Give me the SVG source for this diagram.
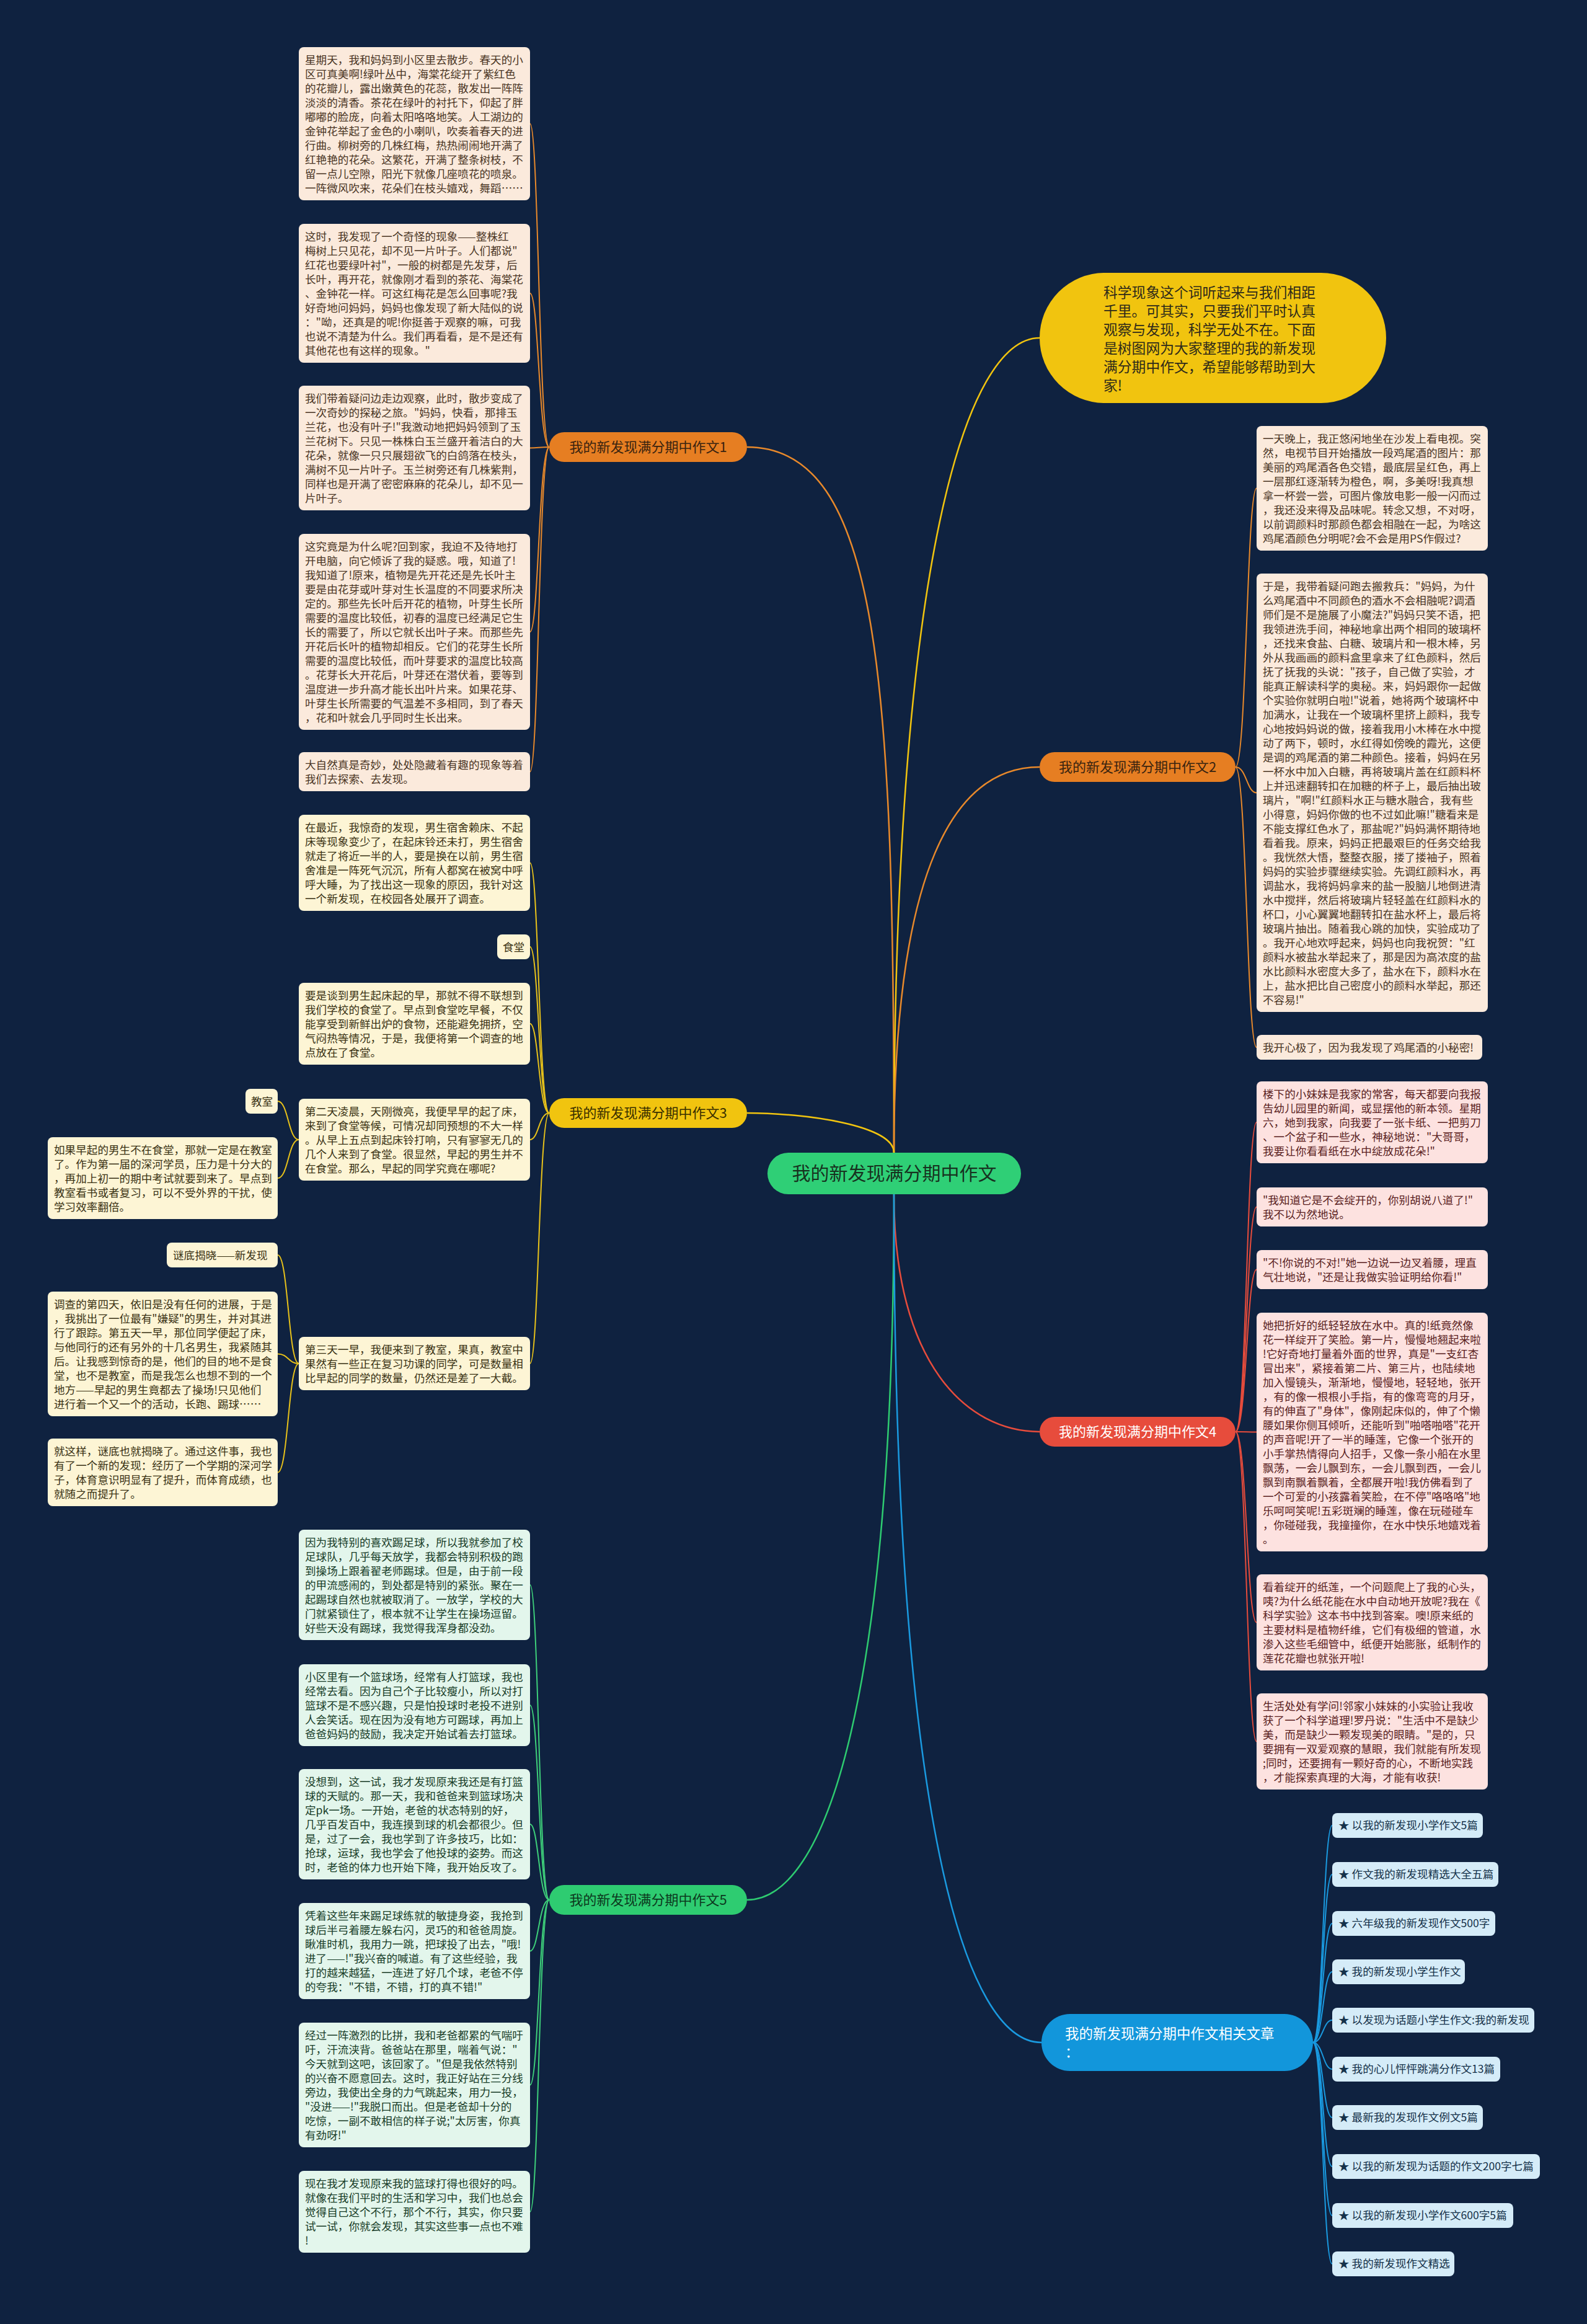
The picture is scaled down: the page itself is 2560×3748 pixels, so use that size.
<svg xmlns="http://www.w3.org/2000/svg" width="2560" height="3748" viewBox="0 0 2560 3748">
<style>
text{font-family:"Noto Sans CJK SC","Noto Sans",sans-serif}
.t{font-size:17.6px}
.lab{font-size:22px;text-anchor:middle}
.c{fill:none;stroke-width:2}
.m{fill:none;stroke-width:2.5}
.b1{fill:#fbeadc}.x1{fill:#4a3524}
.b3{fill:#fdf5d5}.x3{fill:#3a3214}
.b4{fill:#fde2e0}.x4{fill:#5a1e1e}
.b5{fill:#e3f6ec}.x5{fill:#183d28}
.b6{fill:#d5ecf8}.x6{fill:#15324a}
</style>
<rect width="2560" height="3748" fill="#0f2240"/>
<g id="connectors">
<path class="m" stroke="#e8892b" d="M1442 1859 C1442 1100 1420 721 1205 721"/>
<path class="m" stroke="#f1c40f" d="M1442 1859 C1442 900 1560 545 1677 545"/>
<path class="m" stroke="#e8892b" d="M1442 1859 C1442 1400 1540 1237 1677 1237"/>
<path class="m" stroke="#f1c40f" d="M1442 1859 C1442 1815 1300 1795 1205 1795"/>
<path class="m" stroke="#e74c3c" d="M1442 1926 C1442 2200 1560 2309 1677 2309"/>
<path class="m" stroke="#2ecc71" d="M1442 1926 C1442 2750 1330 3064 1205 3064"/>
<path class="m" stroke="#1a9ae0" d="M1442 1926 C1442 2950 1560 3294 1680 3294"/>
<g stroke="#e8892b">
<path class="c" d="M886 721 C869 721 869 199.5 855 199.5"/>
<path class="c" d="M886 721 C869 721 869 473 855 473"/>
<path class="c" d="M886 721 C869 721 869 722.5 855 722.5"/>
<path class="c" d="M886 721 C869 721 869 1019 855 1019"/>
<path class="c" d="M886 721 C869 721 869 1244.5 855 1244.5"/>
<path class="c" d="M1993 1237 C2011 1237 2011 787.5 2027 787.5"/>
<path class="c" d="M1993 1237 C2011 1237 2011 1278.5 2027 1278.5"/>
<path class="c" d="M1993 1237 C2011 1237 2011 1689 2027 1689"/>
</g>
<g stroke="#e8c21a">
<path class="c" d="M886 1795 C869 1795 869 1391.5 855 1391.5"/>
<path class="c" d="M886 1795 C869 1795 869 1527 855 1527"/>
<path class="c" d="M886 1795 C869 1795 869 1651 855 1651"/>
<path class="c" d="M886 1795 C869 1795 869 1838 855 1838"/>
<path class="c" d="M886 1795 C869 1795 869 2199 855 2199"/>
<path class="c" d="M482 1838 C465 1838 465 1776 448 1776"/>
<path class="c" d="M482 1838 C465 1838 465 1900 448 1900"/>
<path class="c" d="M482 2199 C465 2199 465 2024 448 2024"/>
<path class="c" d="M482 2199 C465 2199 465 2183.5 448 2183.5"/>
<path class="c" d="M482 2199 C465 2199 465 2374.5 448 2374.5"/>
</g>
<g stroke="#e74c3c">
<path class="c" d="M1993 2309 C2011 2309 2011 1810 2027 1810"/>
<path class="c" d="M1993 2309 C2011 2309 2011 1946.5 2027 1946.5"/>
<path class="c" d="M1993 2309 C2011 2309 2011 2047.5 2027 2047.5"/>
<path class="c" d="M1993 2309 C2011 2309 2011 2309.5 2027 2309.5"/>
<path class="c" d="M1993 2309 C2011 2309 2011 2616.5 2027 2616.5"/>
<path class="c" d="M1993 2309 C2011 2309 2011 2808.5 2027 2808.5"/>
</g>
<g stroke="#3ecf7a">
<path class="c" d="M886 3064 C869 3064 869 2556 855 2556"/>
<path class="c" d="M886 3064 C869 3064 869 2750 855 2750"/>
<path class="c" d="M886 3064 C869 3064 869 2942 855 2942"/>
<path class="c" d="M886 3064 C869 3064 869 3146.5 855 3146.5"/>
<path class="c" d="M886 3064 C869 3064 869 3362.5 855 3362.5"/>
<path class="c" d="M886 3064 C869 3064 869 3567 855 3567"/>
</g>
<g stroke="#1a9ae0">
<path class="c" d="M2118 3294 C2134 3294 2134 2944 2149 2944"/>
<path class="c" d="M2118 3294 C2134 3294 2134 3023 2149 3023"/>
<path class="c" d="M2118 3294 C2134 3294 2134 3102 2149 3102"/>
<path class="c" d="M2118 3294 C2134 3294 2134 3180 2149 3180"/>
<path class="c" d="M2118 3294 C2134 3294 2134 3258 2149 3258"/>
<path class="c" d="M2118 3294 C2134 3294 2134 3337 2149 3337"/>
<path class="c" d="M2118 3294 C2134 3294 2134 3415 2149 3415"/>
<path class="c" d="M2118 3294 C2134 3294 2134 3494 2149 3494"/>
<path class="c" d="M2118 3294 C2134 3294 2134 3573 2149 3573"/>
<path class="c" d="M2118 3294 C2134 3294 2134 3651 2149 3651"/>
</g>
</g>

<g id="root">
<rect x="1238" y="1859" width="409" height="67" rx="33.5" fill="#2fcf76"/>
<text x="1442.5" y="1903" font-size="30" text-anchor="middle" fill="#17321f">我的新发现满分期中作文</text>
</g>

<g id="intro">
<rect x="1677" y="440" width="559" height="210" rx="105" fill="#f1c40f"/>
<text font-size="22.8" fill="#2e2a1a">
<tspan x="1780" y="480">科学现象这个词听起来与我们相距</tspan>
<tspan x="1780" y="510">千里。可其实，只要我们平时认真</tspan>
<tspan x="1780" y="540">观察与发现，科学无处不在。下面</tspan>
<tspan x="1780" y="570">是树图网为大家整理的我的新发现</tspan>
<tspan x="1780" y="600">满分期中作文，希望能够帮助到大</tspan>
<tspan x="1780" y="630">家!</tspan>
</text>
</g>

<g id="branch1">
<rect x="886" y="697" width="319" height="48" rx="24" fill="#e67e22"/>
<text class="lab" x="1045.5" y="729" fill="#3a2410">我的新发现满分期中作文1</text>
</g>
<g id="branch2">
<rect x="1677" y="1213" width="316" height="48" rx="24" fill="#e67e22"/>
<text class="lab" x="1835" y="1245" fill="#3a2410">我的新发现满分期中作文2</text>
</g>
<g id="branch3">
<rect x="886" y="1771" width="319" height="48" rx="24" fill="#f1c40f"/>
<text class="lab" x="1045.5" y="1803" fill="#3a3000">我的新发现满分期中作文3</text>
</g>
<g id="branch4">
<rect x="1677" y="2285" width="316" height="48" rx="24" fill="#e74c3c"/>
<text class="lab" x="1835" y="2317" fill="#ffffff">我的新发现满分期中作文4</text>
</g>
<g id="branch5">
<rect x="886" y="3040" width="319" height="48" rx="24" fill="#2ecc71"/>
<text class="lab" x="1045.5" y="3072" fill="#0c3a1e">我的新发现满分期中作文5</text>
</g>
<g id="branch6">
<rect x="1680" y="3248" width="438" height="92" rx="46" fill="#1296db"/>
<text font-size="22.5" fill="#ffffff">
<tspan x="1718" y="3288">我的新发现满分期中作文相关文章</tspan>
<tspan x="1718" y="3318">：</tspan>
</text>
</g>

<g id="n1a">
<rect class="b1" x="482" y="76" width="373" height="247" rx="8"/>
<text class="t x1">
<tspan x="492" y="103">星期天，我和妈妈到小区里去散步。春天的小</tspan>
<tspan x="492" y="126">区可真美啊!绿叶丛中，海棠花绽开了紫红色</tspan>
<tspan x="492" y="149">的花瓣儿，露出嫩黄色的花蕊，散发出一阵阵</tspan>
<tspan x="492" y="172">淡淡的清香。茶花在绿叶的衬托下，仰起了胖</tspan>
<tspan x="492" y="195">嘟嘟的脸庞，向着太阳咯咯地笑。人工湖边的</tspan>
<tspan x="492" y="218">金钟花举起了金色的小喇叭，吹奏着春天的进</tspan>
<tspan x="492" y="241">行曲。柳树旁的几株红梅，热热闹闹地开满了</tspan>
<tspan x="492" y="264">红艳艳的花朵。这繁花，开满了整条树枝，不</tspan>
<tspan x="492" y="287">留一点儿空隙，阳光下就像几座喷花的喷泉。</tspan>
<tspan x="492" y="310">一阵微风吹来，花朵们在枝头嬉戏，舞蹈……</tspan>
</text>
</g>
<g id="n1b">
<rect class="b1" x="482" y="361" width="373" height="224" rx="8"/>
<text class="t x1">
<tspan x="492" y="388">这时，我发现了一个奇怪的现象——整株红</tspan>
<tspan x="492" y="411">梅树上只见花，却不见一片叶子。人们都说"</tspan>
<tspan x="492" y="434">红花也要绿叶衬"，一般的树都是先发芽，后</tspan>
<tspan x="492" y="457">长叶，再开花，就像刚才看到的茶花、海棠花</tspan>
<tspan x="492" y="480">、金钟花一样。可这红梅花是怎么回事呢?我</tspan>
<tspan x="492" y="503">好奇地问妈妈，妈妈也像发现了新大陆似的说</tspan>
<tspan x="492" y="526">："呦，还真是的呢!你挺善于观察的嘛，可我</tspan>
<tspan x="492" y="549">也说不清楚为什么。我们再看看，是不是还有</tspan>
<tspan x="492" y="572">其他花也有这样的现象。"</tspan>
</text>
</g>
<g id="n1c">
<rect class="b1" x="482" y="622" width="373" height="201" rx="8"/>
<text class="t x1">
<tspan x="492" y="649">我们带着疑问边走边观察，此时，散步变成了</tspan>
<tspan x="492" y="672">一次奇妙的探秘之旅。"妈妈，快看，那排玉</tspan>
<tspan x="492" y="695">兰花，也没有叶子!"我激动地把妈妈领到了玉</tspan>
<tspan x="492" y="718">兰花树下。只见一株株白玉兰盛开着洁白的大</tspan>
<tspan x="492" y="741">花朵，就像一只只展翅欲飞的白鸽落在枝头，</tspan>
<tspan x="492" y="764">满树不见一片叶子。玉兰树旁还有几株紫荆，</tspan>
<tspan x="492" y="787">同样也是开满了密密麻麻的花朵儿，却不见一</tspan>
<tspan x="492" y="810">片叶子。</tspan>
</text>
</g>
<g id="n1d">
<rect class="b1" x="482" y="861" width="373" height="316" rx="8"/>
<text class="t x1">
<tspan x="492" y="888">这究竟是为什么呢?回到家，我迫不及待地打</tspan>
<tspan x="492" y="911">开电脑，向它倾诉了我的疑惑。哦，知道了!</tspan>
<tspan x="492" y="934">我知道了!原来，植物是先开花还是先长叶主</tspan>
<tspan x="492" y="957">要是由花芽或叶芽对生长温度的不同要求所决</tspan>
<tspan x="492" y="980">定的。那些先长叶后开花的植物，叶芽生长所</tspan>
<tspan x="492" y="1003">需要的温度比较低，初春的温度已经满足它生</tspan>
<tspan x="492" y="1026">长的需要了，所以它就长出叶子来。而那些先</tspan>
<tspan x="492" y="1049">开花后长叶的植物却相反。它们的花芽生长所</tspan>
<tspan x="492" y="1072">需要的温度比较低，而叶芽要求的温度比较高</tspan>
<tspan x="492" y="1095">。花芽长大开花后，叶芽还在潜伏着，要等到</tspan>
<tspan x="492" y="1118">温度进一步升高才能长出叶片来。如果花芽、</tspan>
<tspan x="492" y="1141">叶芽生长所需要的气温差不多相同，到了春天</tspan>
<tspan x="492" y="1164">，花和叶就会几乎同时生长出来。</tspan>
</text>
</g>
<g id="n1e">
<rect class="b1" x="482" y="1213" width="373" height="63" rx="8"/>
<text class="t x1">
<tspan x="492" y="1240">大自然真是奇妙，处处隐藏着有趣的现象等着</tspan>
<tspan x="492" y="1263">我们去探索、去发现。</tspan>
</text>
</g>

<g id="n3a">
<rect class="b3" x="482" y="1314" width="373" height="155" rx="8"/>
<text class="t x3">
<tspan x="492" y="1341">在最近，我惊奇的发现，男生宿舍赖床、不起</tspan>
<tspan x="492" y="1364">床等现象变少了，在起床铃还未打，男生宿舍</tspan>
<tspan x="492" y="1387">就走了将近一半的人，要是换在以前，男生宿</tspan>
<tspan x="492" y="1410">舍准是一阵死气沉沉，所有人都窝在被窝中呼</tspan>
<tspan x="492" y="1433">呼大睡，为了找出这一现象的原因，我针对这</tspan>
<tspan x="492" y="1456">一个新发现，在校园各处展开了调查。</tspan>
</text>
</g>
<g id="n3b">
<rect class="b3" x="802" y="1507" width="53" height="40" rx="8"/>
<text class="t x3" x="811" y="1534">食堂</text>
</g>
<g id="n3c">
<rect class="b3" x="482" y="1585" width="373" height="132" rx="8"/>
<text class="t x3">
<tspan x="492" y="1612">要是谈到男生起床起的早，那就不得不联想到</tspan>
<tspan x="492" y="1635">我们学校的食堂了。早点到食堂吃早餐，不仅</tspan>
<tspan x="492" y="1658">能享受到新鲜出炉的食物，还能避免拥挤，空</tspan>
<tspan x="492" y="1681">气闷热等情况，于是，我便将第一个调查的地</tspan>
<tspan x="492" y="1704">点放在了食堂。</tspan>
</text>
</g>
<g id="n3d">
<rect class="b3" x="482" y="1772" width="373" height="132" rx="8"/>
<text class="t x3">
<tspan x="492" y="1799">第二天凌晨，天刚微亮，我便早早的起了床，</tspan>
<tspan x="492" y="1822">来到了食堂等候，可情况却同预想的不大一样</tspan>
<tspan x="492" y="1845">。从早上五点到起床铃打响，只有寥寥无几的</tspan>
<tspan x="492" y="1868">几个人来到了食堂。很显然，早起的男生并不</tspan>
<tspan x="492" y="1891">在食堂。那么，早起的同学究竟在哪呢?</tspan>
</text>
</g>
<g id="n3e">
<rect class="b3" x="396" y="1756" width="52" height="40" rx="8"/>
<text class="t x3" x="405" y="1783">教室</text>
</g>
<g id="n3f">
<rect class="b3" x="77" y="1834" width="371" height="132" rx="8"/>
<text class="t x3">
<tspan x="87" y="1861">如果早起的男生不在食堂，那就一定是在教室</tspan>
<tspan x="87" y="1884">了。作为第一届的深河学员，压力是十分大的</tspan>
<tspan x="87" y="1907">，再加上初一的期中考试就要到来了。早点到</tspan>
<tspan x="87" y="1930">教室看书或者复习，可以不受外界的干扰，使</tspan>
<tspan x="87" y="1953">学习效率翻倍。</tspan>
</text>
</g>
<g id="n3g">
<rect class="b3" x="482" y="2156" width="373" height="86" rx="8"/>
<text class="t x3">
<tspan x="492" y="2183">第三天一早，我便来到了教室，果真，教室中</tspan>
<tspan x="492" y="2206">果然有一些正在复习功课的同学，可是数量相</tspan>
<tspan x="492" y="2229">比早起的同学的数量，仍然还是差了一大截。</tspan>
</text>
</g>
<g id="n3h">
<rect class="b3" x="269" y="2004" width="179" height="40" rx="8"/>
<text class="t x3" x="279" y="2031">谜底揭晓——新发现</text>
</g>
<g id="n3i">
<rect class="b3" x="77" y="2083" width="371" height="201" rx="8"/>
<text class="t x3">
<tspan x="87" y="2110">调查的第四天，依旧是没有任何的进展，于是</tspan>
<tspan x="87" y="2133">，我挑出了一位最有"嫌疑"的男生，并对其进</tspan>
<tspan x="87" y="2156">行了跟踪。第五天一早，那位同学便起了床，</tspan>
<tspan x="87" y="2179">与他同行的还有另外的十几名男生，我紧随其</tspan>
<tspan x="87" y="2202">后。让我感到惊奇的是，他们的目的地不是食</tspan>
<tspan x="87" y="2225">堂，也不是教室，而是我怎么也想不到的一个</tspan>
<tspan x="87" y="2248">地方——早起的男生竟都去了操场!只见他们</tspan>
<tspan x="87" y="2271">进行着一个又一个的活动，长跑、踢球……</tspan>
</text>
</g>
<g id="n3j">
<rect class="b3" x="77" y="2320" width="371" height="109" rx="8"/>
<text class="t x3">
<tspan x="87" y="2347">就这样，谜底也就揭晓了。通过这件事，我也</tspan>
<tspan x="87" y="2370">有了一个新的发现：经历了一个学期的深河学</tspan>
<tspan x="87" y="2393">子，体育意识明显有了提升，而体育成绩，也</tspan>
<tspan x="87" y="2416">就随之而提升了。</tspan>
</text>
</g>

<g id="n5a">
<rect class="b5" x="482" y="2467" width="373" height="178" rx="8"/>
<text class="t x5">
<tspan x="492" y="2494">因为我特别的喜欢踢足球，所以我就参加了校</tspan>
<tspan x="492" y="2517">足球队，几乎每天放学，我都会特别积极的跑</tspan>
<tspan x="492" y="2540">到操场上跟着翟老师踢球。但是，由于前一段</tspan>
<tspan x="492" y="2563">的甲流感闹的，到处都是特别的紧张。聚在一</tspan>
<tspan x="492" y="2586">起踢球自然也就被取消了。一放学，学校的大</tspan>
<tspan x="492" y="2609">门就紧锁住了，根本就不让学生在操场逗留。</tspan>
<tspan x="492" y="2632">好些天没有踢球，我觉得我浑身都没劲。</tspan>
</text>
</g>
<g id="n5b">
<rect class="b5" x="482" y="2684" width="373" height="132" rx="8"/>
<text class="t x5">
<tspan x="492" y="2711">小区里有一个篮球场，经常有人打篮球，我也</tspan>
<tspan x="492" y="2734">经常去看。因为自己个子比较瘦小，所以对打</tspan>
<tspan x="492" y="2757">篮球不是不感兴趣，只是怕投球时老投不进别</tspan>
<tspan x="492" y="2780">人会笑话。现在因为没有地方可踢球，再加上</tspan>
<tspan x="492" y="2803">爸爸妈妈的鼓励，我决定开始试着去打篮球。</tspan>
</text>
</g>
<g id="n5c">
<rect class="b5" x="482" y="2853" width="373" height="178" rx="8"/>
<text class="t x5">
<tspan x="492" y="2880">没想到，这一试，我才发现原来我还是有打篮</tspan>
<tspan x="492" y="2903">球的天赋的。那一天，我和爸爸来到篮球场决</tspan>
<tspan x="492" y="2926">定pk一场。一开始，老爸的状态特别的好，</tspan>
<tspan x="492" y="2949">几乎百发百中，我连摸到球的机会都很少。但</tspan>
<tspan x="492" y="2972">是，过了一会，我也学到了许多技巧，比如：</tspan>
<tspan x="492" y="2995">抢球，运球，我也学会了他投球的姿势。而这</tspan>
<tspan x="492" y="3018">时，老爸的体力也开始下降，我开始反攻了。</tspan>
</text>
</g>
<g id="n5d">
<rect class="b5" x="482" y="3069" width="373" height="155" rx="8"/>
<text class="t x5">
<tspan x="492" y="3096">凭着这些年来踢足球练就的敏捷身姿，我抢到</tspan>
<tspan x="492" y="3119">球后半弓着腰左躲右闪，灵巧的和爸爸周旋。</tspan>
<tspan x="492" y="3142">瞅准时机，我用力一跳，把球投了出去，"哦!</tspan>
<tspan x="492" y="3165">进了——!"我兴奋的喊道。有了这些经验，我</tspan>
<tspan x="492" y="3188">打的越来越猛，一连进了好几个球，老爸不停</tspan>
<tspan x="492" y="3211">的夸我："不错，不错，打的真不错!"</tspan>
</text>
</g>
<g id="n5e">
<rect class="b5" x="482" y="3262" width="373" height="201" rx="8"/>
<text class="t x5">
<tspan x="492" y="3289">经过一阵激烈的比拼，我和老爸都累的气喘吁</tspan>
<tspan x="492" y="3312">吁，汗流浃背。爸爸站在那里，喘着气说："</tspan>
<tspan x="492" y="3335">今天就到这吧，该回家了。"但是我依然特别</tspan>
<tspan x="492" y="3358">的兴奋不愿意回去。这时，我正好站在三分线</tspan>
<tspan x="492" y="3381">旁边，我使出全身的力气跳起来，用力一投，</tspan>
<tspan x="492" y="3404">"没进——!"我脱口而出。但是老爸却十分的</tspan>
<tspan x="492" y="3427">吃惊，一副不敢相信的样子说;"太厉害，你真</tspan>
<tspan x="492" y="3450">有劲呀!"</tspan>
</text>
</g>
<g id="n5f">
<rect class="b5" x="482" y="3501" width="373" height="132" rx="8"/>
<text class="t x5">
<tspan x="492" y="3528">现在我才发现原来我的篮球打得也很好的吗。</tspan>
<tspan x="492" y="3551">就像在我们平时的生活和学习中，我们也总会</tspan>
<tspan x="492" y="3574">觉得自己这个不行，那个不行，其实，你只要</tspan>
<tspan x="492" y="3597">试一试，你就会发现，其实这些事一点也不难</tspan>
<tspan x="492" y="3620">!</tspan>
</text>
</g>

<g id="n2a">
<rect class="b1" x="2027" y="687" width="373" height="201" rx="8"/>
<text class="t x1">
<tspan x="2037" y="714">一天晚上，我正悠闲地坐在沙发上看电视。突</tspan>
<tspan x="2037" y="737">然，电视节目开始播放一段鸡尾酒的图片：那</tspan>
<tspan x="2037" y="760">美丽的鸡尾酒各色交错，最底层呈红色，再上</tspan>
<tspan x="2037" y="783">一层那红逐渐转为橙色，啊，多美呀!我真想</tspan>
<tspan x="2037" y="806">拿一杯尝一尝，可图片像放电影一般一闪而过</tspan>
<tspan x="2037" y="829">，我还没来得及品味呢。转念又想，不对呀，</tspan>
<tspan x="2037" y="852">以前调颜料时那颜色都会相融在一起，为啥这</tspan>
<tspan x="2037" y="875">鸡尾酒颜色分明呢?会不会是用PS作假过?</tspan>
</text>
</g>
<g id="n2b">
<rect class="b1" x="2027" y="925" width="373" height="707" rx="8"/>
<text class="t x1">
<tspan x="2037" y="952">于是，我带着疑问跑去搬救兵："妈妈，为什</tspan>
<tspan x="2037" y="975">么鸡尾酒中不同颜色的酒水不会相融呢?调酒</tspan>
<tspan x="2037" y="998">师们是不是施展了小魔法?"妈妈只笑不语，把</tspan>
<tspan x="2037" y="1021">我领进洗手间，神秘地拿出两个相同的玻璃杯</tspan>
<tspan x="2037" y="1044">，还找来食盐、白糖、玻璃片和一根木棒，另</tspan>
<tspan x="2037" y="1067">外从我画画的颜料盒里拿来了红色颜料，然后</tspan>
<tspan x="2037" y="1090">抚了抚我的头说："孩子，自己做了实验，才</tspan>
<tspan x="2037" y="1113">能真正解读科学的奥秘。来，妈妈跟你一起做</tspan>
<tspan x="2037" y="1136">个实验你就明白啦!"说着，她将两个玻璃杯中</tspan>
<tspan x="2037" y="1159">加满水，让我在一个玻璃杯里挤上颜料，我专</tspan>
<tspan x="2037" y="1182">心地按妈妈说的做，接着我用小木棒在水中搅</tspan>
<tspan x="2037" y="1205">动了两下，顿时，水红得如傍晚的霞光，这便</tspan>
<tspan x="2037" y="1228">是调的鸡尾酒的第二种颜色。接着，妈妈在另</tspan>
<tspan x="2037" y="1251">一杯水中加入白糖，再将玻璃片盖在红颜料杯</tspan>
<tspan x="2037" y="1274">上并迅速翻转扣在加糖的杯子上，最后抽出玻</tspan>
<tspan x="2037" y="1297">璃片，"啊!"红颜料水正与糖水融合，我有些</tspan>
<tspan x="2037" y="1320">小得意，妈妈你做的也不过如此嘛!"糖看来是</tspan>
<tspan x="2037" y="1343">不能支撑红色水了，那盐呢?"妈妈满怀期待地</tspan>
<tspan x="2037" y="1366">看着我。原来，妈妈正把最艰巨的任务交给我</tspan>
<tspan x="2037" y="1389">。我恍然大悟，整整衣服，搂了搂袖子，照着</tspan>
<tspan x="2037" y="1412">妈妈的实验步骤继续实验。先调红颜料水，再</tspan>
<tspan x="2037" y="1435">调盐水，我将妈妈拿来的盐一股脑儿地倒进清</tspan>
<tspan x="2037" y="1458">水中搅拌，然后将玻璃片轻轻盖在红颜料水的</tspan>
<tspan x="2037" y="1481">杯口，小心翼翼地翻转扣在盐水杯上，最后将</tspan>
<tspan x="2037" y="1504">玻璃片抽出。随着我心跳的加快，实验成功了</tspan>
<tspan x="2037" y="1527">。我开心地欢呼起来，妈妈也向我祝贺："红</tspan>
<tspan x="2037" y="1550">颜料水被盐水举起来了，那是因为高浓度的盐</tspan>
<tspan x="2037" y="1573">水比颜料水密度大多了，盐水在下，颜料水在</tspan>
<tspan x="2037" y="1596">上，盐水把比自己密度小的颜料水举起，那还</tspan>
<tspan x="2037" y="1619">不容易!"</tspan>
</text>
</g>
<g id="n2c">
<rect class="b1" x="2027" y="1669" width="364" height="40" rx="8"/>
<text class="t x1" x="2037" y="1696">我开心极了，因为我发现了鸡尾酒的小秘密!</text>
</g>

<g id="n4a">
<rect class="b4" x="2027" y="1744" width="373" height="132" rx="8"/>
<text class="t x4">
<tspan x="2037" y="1771">楼下的小妹妹是我家的常客，每天都要向我报</tspan>
<tspan x="2037" y="1794">告幼儿园里的新闻，或显摆他的新本领。星期</tspan>
<tspan x="2037" y="1817">六，她到我家，向我要了一张卡纸、一把剪刀</tspan>
<tspan x="2037" y="1840">、一个盆子和一些水，神秘地说："大哥哥，</tspan>
<tspan x="2037" y="1863">我要让你看看纸在水中绽放成花朵!"</tspan>
</text>
</g>
<g id="n4b">
<rect class="b4" x="2027" y="1915" width="373" height="63" rx="8"/>
<text class="t x4">
<tspan x="2037" y="1942">"我知道它是不会绽开的，你别胡说八道了!"</tspan>
<tspan x="2037" y="1965">我不以为然地说。</tspan>
</text>
</g>
<g id="n4c">
<rect class="b4" x="2027" y="2016" width="373" height="63" rx="8"/>
<text class="t x4">
<tspan x="2037" y="2043">"不!你说的不对!"她一边说一边叉着腰，理直</tspan>
<tspan x="2037" y="2066">气壮地说，"还是让我做实验证明给你看!"</tspan>
</text>
</g>
<g id="n4d">
<rect class="b4" x="2027" y="2117" width="373" height="385" rx="8"/>
<text class="t x4">
<tspan x="2037" y="2144">她把折好的纸轻轻放在水中。真的!纸竟然像</tspan>
<tspan x="2037" y="2167">花一样绽开了笑脸。第一片，慢慢地翘起来啦</tspan>
<tspan x="2037" y="2190">!它好奇地打量着外面的世界，真是"一支红杏</tspan>
<tspan x="2037" y="2213">冒出来"，紧接着第二片、第三片，也陆续地</tspan>
<tspan x="2037" y="2236">加入慢镜头，渐渐地，慢慢地，轻轻地，张开</tspan>
<tspan x="2037" y="2259">，有的像一根根小手指，有的像弯弯的月牙，</tspan>
<tspan x="2037" y="2282">有的伸直了"身体"，像刚起床似的，伸了个懒</tspan>
<tspan x="2037" y="2305">腰如果你侧耳倾听，还能听到"啪嗒啪嗒"花开</tspan>
<tspan x="2037" y="2328">的声音呢!开了一半的睡莲，它像一个张开的</tspan>
<tspan x="2037" y="2351">小手掌热情得向人招手，又像一条小船在水里</tspan>
<tspan x="2037" y="2374">飘荡，一会儿飘到东，一会儿飘到西，一会儿</tspan>
<tspan x="2037" y="2397">飘到南飘着飘着，全都展开啦!我仿佛看到了</tspan>
<tspan x="2037" y="2420">一个可爱的小孩露着笑脸，在不停"咯咯咯"地</tspan>
<tspan x="2037" y="2443">乐呵呵笑呢!五彩斑斓的睡莲，像在玩碰碰车</tspan>
<tspan x="2037" y="2466">，你碰碰我，我撞撞你，在水中快乐地嬉戏着</tspan>
<tspan x="2037" y="2489">。</tspan>
</text>
</g>
<g id="n4e">
<rect class="b4" x="2027" y="2539" width="373" height="155" rx="8"/>
<text class="t x4">
<tspan x="2037" y="2566">看着绽开的纸莲，一个问题爬上了我的心头，</tspan>
<tspan x="2037" y="2589">咦?为什么纸花能在水中自动地开放呢?我在《</tspan>
<tspan x="2037" y="2612">科学实验》这本书中找到答案。噢!原来纸的</tspan>
<tspan x="2037" y="2635">主要材料是植物纤维，它们有极细的管道，水</tspan>
<tspan x="2037" y="2658">渗入这些毛细管中，纸便开始膨胀，纸制作的</tspan>
<tspan x="2037" y="2681">莲花花瓣也就张开啦!</tspan>
</text>
</g>
<g id="n4f">
<rect class="b4" x="2027" y="2731" width="373" height="155" rx="8"/>
<text class="t x4">
<tspan x="2037" y="2758">生活处处有学问!邻家小妹妹的小实验让我收</tspan>
<tspan x="2037" y="2781">获了一个科学道理!罗丹说："生活中不是缺少</tspan>
<tspan x="2037" y="2804">美，而是缺少一颗发现美的眼睛。"是的，只</tspan>
<tspan x="2037" y="2827">要拥有一双爱观察的慧眼，我们就能有所发现</tspan>
<tspan x="2037" y="2850">;同时，还要拥有一颗好奇的心，不断地实践</tspan>
<tspan x="2037" y="2873">，才能探索真理的大海，才能有收获!</tspan>
</text>
</g>

<g id="n6a"><rect class="b6" x="2149" y="2924" width="243" height="40" rx="8"/><text class="t x6" x="2159" y="2950">★ 以我的新发现小学作文5篇</text></g>
<g id="n6b"><rect class="b6" x="2149" y="3003" width="268" height="40" rx="8"/><text class="t x6" x="2159" y="3029">★ 作文我的新发现精选大全五篇</text></g>
<g id="n6c"><rect class="b6" x="2149" y="3082" width="263" height="40" rx="8"/><text class="t x6" x="2159" y="3108">★ 六年级我的新发现作文500字</text></g>
<g id="n6d"><rect class="b6" x="2149" y="3160" width="214" height="40" rx="8"/><text class="t x6" x="2159" y="3186">★ 我的新发现小学生作文</text></g>
<g id="n6e"><rect class="b6" x="2149" y="3238" width="326" height="40" rx="8"/><text class="t x6" x="2159" y="3264">★ 以发现为话题小学生作文:我的新发现</text></g>
<g id="n6f"><rect class="b6" x="2149" y="3317" width="271" height="40" rx="8"/><text class="t x6" x="2159" y="3343">★ 我的心儿怦怦跳满分作文13篇</text></g>
<g id="n6g"><rect class="b6" x="2149" y="3395" width="243" height="40" rx="8"/><text class="t x6" x="2159" y="3421">★ 最新我的发现作文例文5篇</text></g>
<g id="n6h"><rect class="b6" x="2149" y="3474" width="335" height="40" rx="8"/><text class="t x6" x="2159" y="3500">★ 以我的新发现为话题的作文200字七篇</text></g>
<g id="n6i"><rect class="b6" x="2149" y="3553" width="292" height="40" rx="8"/><text class="t x6" x="2159" y="3579">★ 以我的新发现小学作文600字5篇</text></g>
<g id="n6j"><rect class="b6" x="2149" y="3631" width="197" height="40" rx="8"/><text class="t x6" x="2159" y="3657">★ 我的新发现作文精选</text></g>
</svg>
